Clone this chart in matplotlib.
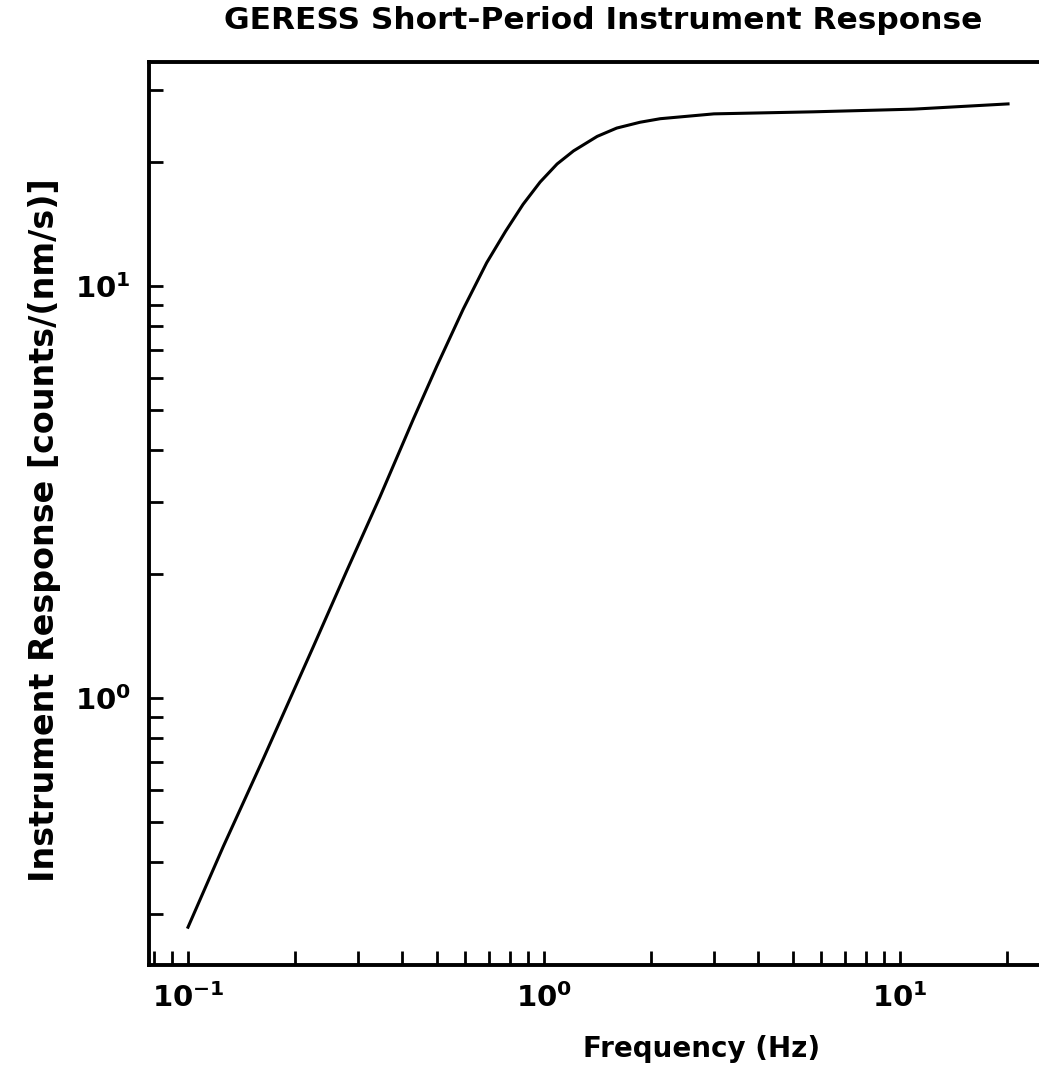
import matplotlib
matplotlib.use("Agg")
from matplotlib import pyplot as plt
from matplotlib.ticker import LogLocator, NullFormatter

# values
freq = [0.1, 0.1257, 0.163, 0.225, 0.279, 0.346, 0.43, 0.5, 0.593, 0.69, 0.78,
        0.873, 0.975, 1.088, 1.21, 1.41, 1.6, 1.86, 2.12, 3.0, 5.7, 10.9, 20.1]
resp = [0.278, 0.437, 0.715, 1.335, 2.035, 3.08, 4.77, 6.40, 8.8, 11.4, 13.6,
        15.8, 17.9, 19.8, 21.3, 23.1, 24.2, 25.0, 25.5, 26.2, 26.5, 26.9, 27.7]

xticks = [0.1, 1, 10]
xticklabels = [r'$\mathbf{10^{-1}}$', r'$\mathbf{10^{0}}$', r'$\mathbf{10^{1}}$']
yticks = [1, 10]
yticklabels = [r'$\mathbf{10^{0}}$', r'$\mathbf{10^{1}}$']

plt.rcParams['font.family'] = ['DejaVu Sans']
plt.rcParams['font.weight'] = 'bold'

fig = plt.figure(figsize=(10.39, 10.68), dpi=100)
ax = fig.add_axes([0.1434, 0.0964, 0.874, 0.8455])

ax.plot(freq, resp, color='black', linewidth=2.2, solid_joinstyle='round')
ax.set_xscale('log')
ax.set_yscale('log')
ax.set_xlim(0.0777, 27.6)
ax.set_ylim(0.225, 35)

ax.set_xticks(xticks)
ax.set_xticklabels(xticklabels)
ax.set_yticks(yticks)
ax.set_yticklabels(yticklabels)
ax.xaxis.set_minor_locator(LogLocator(base=10, subs=range(2, 10)))
ax.yaxis.set_minor_locator(LogLocator(base=10, subs=range(2, 10)))
ax.xaxis.set_minor_formatter(NullFormatter())
ax.yaxis.set_minor_formatter(NullFormatter())

ax.tick_params(which='both', direction='in', length=10, width=2, top=False, right=False,
               labelsize=21, pad=13)

for side in ['left', 'bottom', 'top']:
    ax.spines[side].set_linewidth(2.8)
ax.spines['right'].set_visible(False)

ax.set_title('GERESS Short-Period Instrument Response', fontsize=22.5, fontweight='bold', pad=24)
ax.set_xlabel('Frequency (Hz)', fontsize=20, fontweight='bold')
ax.xaxis.set_label_coords(0.609, -0.078)
ax.set_ylabel('Instrument Response [counts/(nm/s)]', fontsize=24, fontweight='bold')
ax.yaxis.set_label_coords(-0.097, 0.482)

fig.savefig('out.png', dpi=100)
